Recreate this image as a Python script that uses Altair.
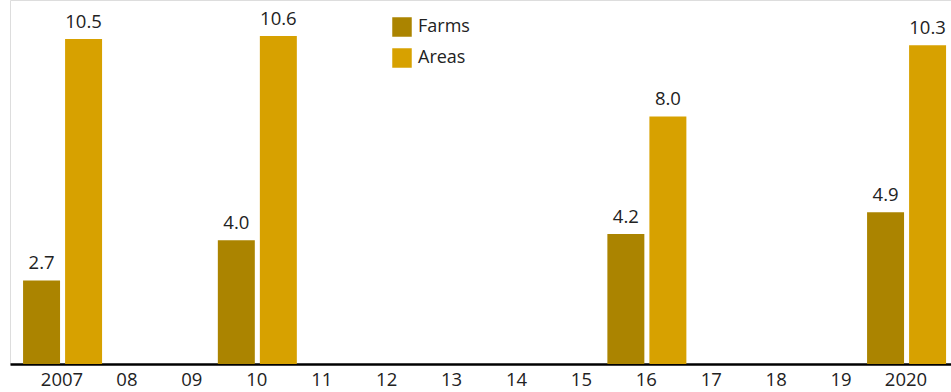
import altair as alt
import pandas as pd

categories = ["2007", "08", "09", "10", "11", "12", "13", "14", "15", "16", "17", "18", "19", "2020"]
data_years = ["2007", "10", "16", "2020"]
farms = [2.7, 4.0, 4.2, 4.9]
areas = [10.5, 10.6, 8.0, 10.3]
series = ["Farms", "Areas"]
colors = ["#AB8400", "#D7A100"]

rows = []
for y, f, a in zip(data_years, farms, areas):
    rows.append({"year": y, "series": "Farms", "value": f, "label": f"{f:.1f}"})
    rows.append({"year": y, "series": "Areas", "value": a, "label": f"{a:.1f}"})
df = pd.DataFrame(rows)

FONT = "Open Sans"

x = alt.X("year:N", sort=categories,
          scale=alt.Scale(domain=categories, paddingInner=0, paddingOuter=0.247, align=0.61),
          axis=alt.Axis(title=None, labelAngle=0, ticks=False, domainColor="#000000",
                        domainWidth=2.5, labelFontSize=18.5, labelColor="#222222",
                        labelFont=FONT, labelPadding=6, grid=False))
xo = alt.XOffset("series:N", sort=series,
                 scale=alt.Scale(domain=series, range=[-6.5, 72.5], paddingInner=0.12, paddingOuter=0))
y = alt.Y("value:Q", scale=alt.Scale(domain=[0, 11.76], nice=False, zero=True), axis=None)

bars = alt.Chart(df).mark_bar().encode(
    x=x, xOffset=xo, y=y,
    color=alt.Color("series:N", sort=series,
                    scale=alt.Scale(domain=series, range=colors),
                    legend=alt.Legend(title=None, orient="none", legendX=382, legendY=17,
                                      symbolType="square", symbolSize=380, symbolStrokeWidth=0,
                                      labelFontSize=18, labelFont=FONT, labelColor="#222222",
                                      rowPadding=11, labelOffset=6)),
)

text = alt.Chart(df).mark_text(baseline="bottom", dy=-7, fontSize=18.5, font=FONT, color="#222222").encode(
    x=x, xOffset=xo, y=y, text="label:N"
)

chart = alt.layer(bars, text).properties(
    width=941, height=364,
    padding={"left": 10, "top": 0, "right": 0, "bottom": 28},
    autosize=alt.AutoSizeParams(type="none"),
).configure_view(stroke=None).configure(background="white")

chart.save("out.html", embed_options={"renderer": "svg", "actions": False})
